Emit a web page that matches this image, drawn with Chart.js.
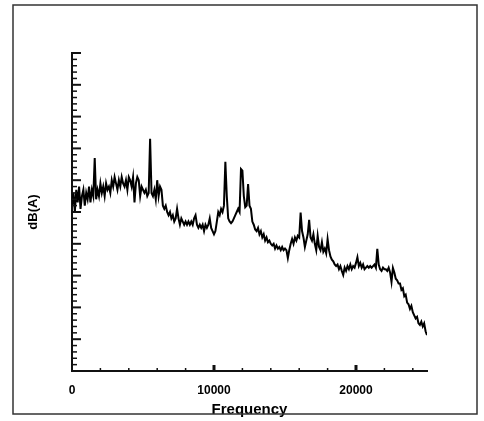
<!DOCTYPE html>
<html>
<head>
<meta charset="utf-8">
<script src="https://cdn.jsdelivr.net/npm/chart.js@4"></script>
<style>
    html, body { margin: 0; padding: 0; background: #fff; }
    #wrap { position: relative; width: 484px; height: 421px; }
</style>
</head>
<body>
<div id="wrap"><canvas id="spectrumChart" width="484" height="421"></canvas></div>
<script>
const freqStep = 100;
const dbLevels = [
    52, 56, 50, 57, 53, 58, 51, 55, 57, 52, 56,
    54, 58, 53, 57, 55, 67, 54, 57, 55, 59,
    56, 58, 55, 59, 57, 58, 56, 60, 58, 61,
    59, 57, 60, 58, 61, 59, 58, 60, 57, 61,
    60, 58, 61, 53, 59, 61, 60, 55, 58, 57,
    56, 57, 55, 56, 73, 56, 55, 57, 54, 60,
    55, 58, 57, 52, 51, 52, 50, 49, 50, 48,
    49, 47, 48, 51, 48, 46, 48, 47, 46, 47,
    46, 47, 46, 47, 46, 48, 49, 46, 45, 46,
    45, 46, 44, 46, 45, 46, 48, 45, 44, 43,
    44, 47, 50, 49, 51, 50, 52, 65.8, 55, 48,
    47, 46.5, 47, 48, 49, 50, 51, 50, 63.5, 63,
    55, 51.5, 52, 58.8, 52, 51, 47, 46, 44.5, 44,
    45, 43, 44, 42, 43, 41, 42, 40.5, 41, 40,
    39.5, 40, 38.5, 39.5, 38.5, 39, 38, 39, 38, 38.5,
    38, 35.5, 38, 40, 41.5, 40, 42, 41, 42.5, 42,
    49.8, 44, 42, 39, 41, 43, 47.5, 42, 41, 43,
    40, 38, 42.5, 39, 38, 40.5, 37.5, 38.5, 37, 41.5,
    38, 36, 35, 34.5, 33.5, 33, 33.5, 32, 33, 31.5,
    30.2, 32.5, 31.5, 33, 32, 33.5, 32, 33, 32.5, 34,
    35.8, 33, 34, 32.5, 33.5, 32, 32.5, 33, 32.5, 33,
    32.5, 33, 33.5, 32.5, 38.4, 33.5, 32, 31.5, 32.5, 32,
    32, 31.5, 32.5, 31, 28, 32.4, 31, 29, 28.5, 27.5,
    27.5, 25.5, 26, 23.5, 24, 21.5, 21, 19.5, 20.5, 18.5,
    17.5, 16.5, 17, 15, 14.5, 15.5, 14, 15, 12.5, 11.3
];
const xTickValues = [0, 2000, 4000, 6000, 8000, 10000, 12000, 14000, 16000, 18000, 20000, 22000, 24000];
const xLabelTicks = [0, 10000, 20000];
const yTickValues = [0, 2, 4, 6, 8, 10, 12, 14, 16, 18, 20, 22, 24, 26, 28, 30, 32, 34, 36, 38, 40,
    42, 44, 46, 48, 50, 52, 54, 56, 58, 60, 62, 64, 66, 68, 70, 72, 74, 76, 78, 80,
    82, 84, 86, 88, 90, 92, 94, 96, 98, 100];
const xRange = [0, 25000];
const yRange = [0, 100];

const points = dbLevels.map((v, i) => ({ x: i * freqStep, y: v }));

// inward tick marks + scanned page frame
const frameAndTicks = {
    id: 'frameAndTicks',
    afterDraw(chart) {
        const ctx = chart.ctx;
        const xs = chart.scales.x;
        const ys = chart.scales.y;
        const area = chart.chartArea;
        ctx.save();
        ctx.strokeStyle = '#111';

        xs.ticks.forEach(t => {
            if (t.value === 0) return;
            const major = t.value % 10000 === 0;
            const px = xs.getPixelForValue(t.value);
            ctx.lineWidth = major ? 3 : 1.5;
            ctx.beginPath();
            ctx.moveTo(px, area.bottom);
            ctx.lineTo(px, area.bottom - (major ? 6 : 3));
            ctx.stroke();
        });

        ys.ticks.forEach(t => {
            if (t.value === 0) return;
            const major = t.value % 10 === 0;
            const py = ys.getPixelForValue(t.value);
            ctx.lineWidth = major ? 2 : 1.5;
            ctx.beginPath();
            ctx.moveTo(area.left, py);
            ctx.lineTo(area.left + (major ? 9 : 5), py);
            ctx.stroke();
        });

        ctx.strokeStyle = '#333';
        ctx.lineWidth = 1.5;
        ctx.strokeRect(13, 5, 464, 409);
        ctx.restore();
    }
};

const ctx = document.getElementById('spectrumChart').getContext('2d');
new Chart(ctx, {
    type: 'line',
    data: {
        datasets: [{
            data: points,
            borderColor: '#000',
            borderWidth: 2,
            pointRadius: 0,
            tension: 0,
            fill: false
        }]
    },
    options: {
        responsive: false,
        animation: false,
        events: [],
        layout: { padding: { top: 53, right: 57, bottom: 0, left: 0 } },
        plugins: {
            legend: { display: false },
            tooltip: { enabled: false }
        },
        scales: {
            x: {
                type: 'linear',
                min: xRange[0],
                max: xRange[1],
                afterBuildTicks: s => { s.ticks = xTickValues.map(v => ({ value: v })); },
                afterFit: s => { s.height = 50; },
                grid: { display: false, drawTicks: false },
                border: { display: true, color: '#111', width: 2 },
                ticks: {
                    autoSkip: false,
                    maxRotation: 0,
                    padding: 12,
                    color: '#000',
                    font: { family: 'Liberation Sans', size: 12, weight: 'bold' },
                    callback: v => xLabelTicks.includes(v) ? String(v) : ''
                },
                title: {
                    display: true,
                    text: 'Frequency',
                    color: '#000',
                    font: { family: 'Liberation Sans', size: 15, weight: 'bold' },
                    padding: { top: 0, bottom: 2 }
                }
            },
            y: {
                min: yRange[0],
                max: yRange[1],
                afterBuildTicks: s => { s.ticks = yTickValues.map(v => ({ value: v })); },
                afterFit: s => { s.width = 72; },
                grid: { display: false, drawTicks: false },
                border: { display: true, color: '#111', width: 2 },
                ticks: { display: false },
                title: {
                    display: true,
                    text: 'dB(A)',
                    color: '#000',
                    font: { family: 'Liberation Sans', size: 13, weight: 'bold' },
                    padding: { top: 26, bottom: 0 }
                }
            }
        }
    },
    plugins: [frameAndTicks]
});
</script>
</body>
</html>
